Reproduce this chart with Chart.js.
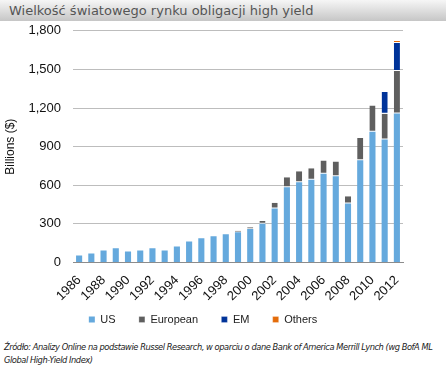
<!DOCTYPE html>
<html>
<head>
<meta charset="utf-8">
<script src="https://cdn.jsdelivr.net/npm/chart.js@4.4.1/dist/chart.umd.min.js"></script>
<style>
	body { margin: 0; background: #fff; width: 446px; height: 367px; overflow: hidden; position: relative; }
	#title { position: absolute; left: 0; top: 0; width: 446px; height: 21px; background: linear-gradient(#f6f6f6, #c6c6c6); font: 13px Tahoma, "DejaVu Sans", sans-serif; color: #555; line-height: 21px; padding-left: 9px; box-sizing: border-box; }
	#box { position: absolute; left: 0; top: 11px; width: 446px; height: 324px; }
	#note { position: absolute; left: 4px; top: 341px; font: italic 8.3px "DejaVu Sans", sans-serif; letter-spacing: -0.45px; color: #222; line-height: 12.5px; white-space: nowrap; }
</style>
</head>
<body>
<div id="title">Wielkość światowego rynku obligacji high yield</div>
<div id="box"><canvas id="chart1"></canvas></div>
<div id="note">Źródło: Analizy Online na podstawie Russel Research, w oparciu o dane Bank of America Merrill Lynch (wg BofA ML<br>Global High-Yield Index)</div>
<script>
//data, billions of $
const years = ['1986','1987','1988','1989','1990','1991','1992','1993','1994','1995','1996','1997','1998','1999','2000','2001','2002','2003','2004','2005','2006','2007','2008','2009','2010','2011','2012'];
const usValues = [55,70,94,110,86,94,110,94,125,164,188,204,219,235,260,302,420,584,623,642,689,670,459,795,1015,955,1158];
const europeanValues = [null,null,null,null,null,null,null,null,null,null,null,null,null,12,14,20,45,78,86,91,104,115,55,172,204,200,329];
const emValues = [null,null,null,null,null,null,null,null,null,null,null,null,null,null,null,null,null,null,null,null,null,null,null,null,null,169,219];
const otherValues = [null,null,null,null,null,null,null,null,null,null,null,null,null,null,null,null,null,null,null,null,null,null,null,null,null,null,15];
const seriesNames = ['US','European','EM','Others'];
const seriesColors = ['#65a9dd','#5f5f5f','#003399','#e46c0a'];
const yTicks = [0,300,600,900,1200,1500,1800];

function makeSet(index, values) {
	return {
		label: seriesNames[index],
		data: values,
		backgroundColor: seriesColors[index],
		borderColor: '#ffffff',
		borderWidth: index == 0 ? 0 : {top: 0, left: 0, right: 0, bottom: 1},
		borderSkipped: false,
		categoryPercentage: 1,
		barPercentage: 0.5
	};
}

//default legend items, with trailing spaces to widen the gap between them
function legendLabels(chart) {
	let items = Chart.defaults.plugins.legend.labels.generateLabels(chart);
	items.forEach((item, i) => {
		if(i < items.length - 1) item.text = item.text + '     ';
	});
	return items;
}

let config = {
	type: 'bar',
	data: {
		labels: years,
		datasets: [makeSet(0, usValues), makeSet(1, europeanValues), makeSet(2, emValues), makeSet(3, otherValues)]
	},
	options: {
		responsive: true,
		maintainAspectRatio: false,
		animation: false,
		layout: { padding: { left: 3, right: 43, top: 4, bottom: 0 } },
		plugins: {
			tooltip: { enabled: false },
			legend: {
				position: 'bottom',
				labels: {
					boxWidth: 6,
					boxHeight: 6,
					padding: 8,
					color: '#222',
					font: { family: 'Liberation Sans, Arial', size: 11 },
					generateLabels: legendLabels
				}
			}
		},
		scales: {
			x: {
				stacked: true,
				grid: { display: false },
				border: { display: true, color: '#8c8c8c', width: 1 },
				ticks: {
					autoSkip: false,
					minRotation: 45,
					maxRotation: 45,
					padding: 2,
					color: '#111',
					font: { family: 'Liberation Sans, Arial', size: 13 },
					callback: function(value, index) {
						return index % 2 == 0 ? years[index] : '';
					}
				}
			},
			y: {
				stacked: true,
				min: 0,
				max: 1800,
				afterBuildTicks: function(scale) {
					scale.ticks = yTicks.map(v => ({value: v}));
				},
				afterFit: function(scale) {
					scale.width = 70;
				},
				grid: { color: '#bdbdbd', lineWidth: 1, drawTicks: false },
				border: { display: false },
				title: {
					display: true,
					text: 'Billions ($)',
					color: '#111',
					padding: 0,
					font: { family: 'Liberation Sans, Arial', size: 12 }
				},
				ticks: {
					padding: 12,
					color: '#111',
					font: { family: 'Liberation Sans, Arial', size: 13 },
					callback: function(value) {
						return value.toLocaleString('en-US');
					}
				}
			}
		}
	}
};

new Chart(document.getElementById('chart1'), config);
</script>
</body>
</html>
